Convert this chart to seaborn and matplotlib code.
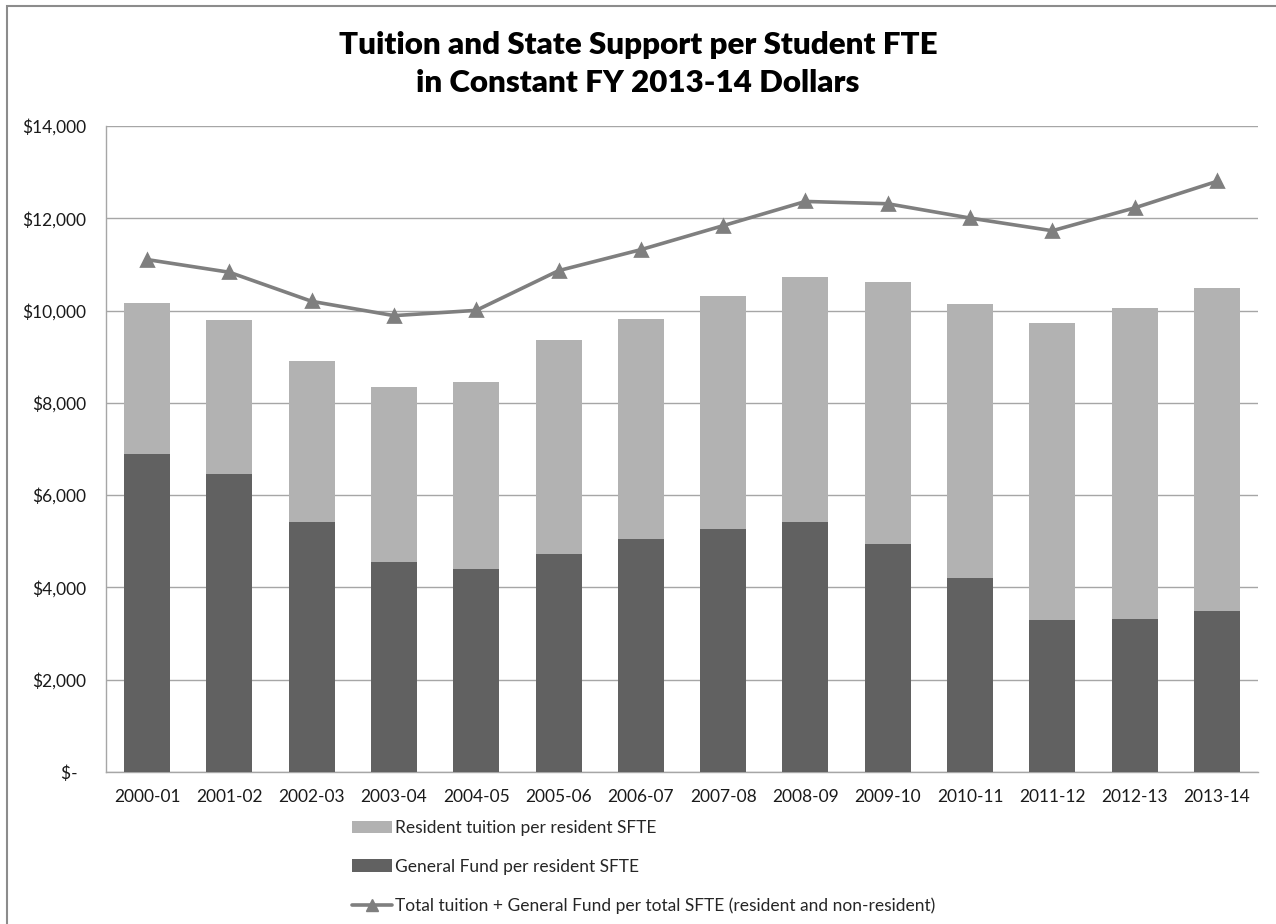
import matplotlib
matplotlib.use("Agg")
import matplotlib.pyplot as plt
import seaborn as sns
import pandas as pd
from matplotlib.patches import Rectangle, Patch
from matplotlib.lines import Line2D
from matplotlib.ticker import FuncFormatter

# Fiscal years
years = ["2000-01", "2001-02", "2002-03", "2003-04", "2004-05", "2005-06", "2006-07",
         "2007-08", "2008-09", "2009-10", "2010-11", "2011-12", "2012-13", "2013-14"]

# General Fund per resident SFTE (constant FY 2013-14 dollars)
general_fund = [6900, 6460, 5425, 4550, 4400, 4725, 5055, 5265, 5425, 4940, 4205, 3295, 3320, 3480]

# Resident tuition per resident SFTE (stacked on top of General Fund)
resident_tuition = [3265, 3335, 3475, 3785, 4050, 4640, 4765, 5050, 5305, 5685, 5945, 6445, 6745, 7010]

# Total tuition + General Fund per total SFTE (resident and non-resident)
total_per_sfte = [11105, 10830, 10200, 9890, 10005, 10865, 11320, 11840, 12365, 12315, 12005, 11730, 12225, 12800]

legend_labels = ["Resident tuition per resident SFTE",
                 "General Fund per resident SFTE",
                 "Total tuition + General Fund per total SFTE (resident and non-resident)"]

title = "Tuition and State Support per Student FTE\nin Constant FY 2013-14 Dollars"

LIGHT = "#b2b2b2"
DARK = "#616161"
LINE = "#7f7f7f"
GRID = "#a6a6a6"

sns.set_theme(style="white")
plt.rcParams["font.family"] = ["Lato", "DejaVu Sans"]

df = pd.DataFrame({
    "year": years,
    "general_fund": general_fund,
    "resident_tuition": resident_tuition,
    "total": total_per_sfte,
})
df["stack_top"] = df["general_fund"] + df["resident_tuition"]

W, H = 1276, 924
fig = plt.figure(figsize=(W / 100, H / 100), dpi=100)
ax = fig.add_axes([106 / W, 1 - 772 / H, (1258 - 106) / W, (772 - 126) / H])

# Stacked bars: full stack in light grey, General Fund portion in dark grey over it
sns.barplot(data=df, x="year", y="stack_top", color=LIGHT, saturation=1, width=0.56,
            errorbar=None, linewidth=0, ax=ax, zorder=2)
sns.barplot(data=df, x="year", y="general_fund", color=DARK, saturation=1, width=0.56,
            errorbar=None, linewidth=0, ax=ax, zorder=3)

# Total per SFTE line with triangle markers
sns.pointplot(data=df, x="year", y="total", color=LINE, markers="^", linestyles="-",
              markersize=9, linewidth=2.6, errorbar=None, ax=ax)
for coll in ax.collections:
    coll.set_zorder(5)
for ln in ax.lines:
    ln.set_zorder(5)

ax.set_xlim(-0.5, len(years) - 0.5)
ax.set_ylim(0, 14000)
ax.set_yticks(range(0, 14001, 2000))


def dollars(v, _pos):
    return "$-  " if v == 0 else f"${v:,.0f}"


ax.yaxis.set_major_formatter(FuncFormatter(dollars))
ax.set_xlabel("")
ax.set_ylabel("")
ax.tick_params(axis="both", length=0, labelsize=12.5, colors="#1a1a1a")
ax.tick_params(axis="y", pad=14)
ax.tick_params(axis="x", pad=12)

ax.yaxis.grid(True, color=GRID, linewidth=1)
ax.set_axisbelow(True)
for side in ("top", "right"):
    ax.spines[side].set_visible(False)
for side in ("left", "bottom"):
    ax.spines[side].set_color(GRID)
    ax.spines[side].set_linewidth(1)

fig.text(0.5, 1 - 64 / H, title, ha="center", va="center", fontsize=22.5,
         fontweight="heavy", linespacing=1.45, color="#000000")

handles = [
    Patch(facecolor=LIGHT, edgecolor="none"),
    Patch(facecolor=DARK, edgecolor="none"),
    Line2D([], [], color=LINE, lw=2.6, marker="^", markersize=9),
]
fig.legend(handles, legend_labels, loc="upper left", bbox_to_anchor=(352 / W, 1 - 820 / H),
           frameon=False, fontsize=12.5, handlelength=2.3, handleheight=0.7,
           handletextpad=0.2, labelspacing=1.3, borderaxespad=0, borderpad=0)

# Outer chart-area border
fig.patches.append(Rectangle((7 / W, -0.1), 1.2, 1.1 - 6 / H, transform=fig.transFigure,
                             fill=False, edgecolor="#8c8c8c", linewidth=1.5))

fig.savefig("out.png", dpi=100)
